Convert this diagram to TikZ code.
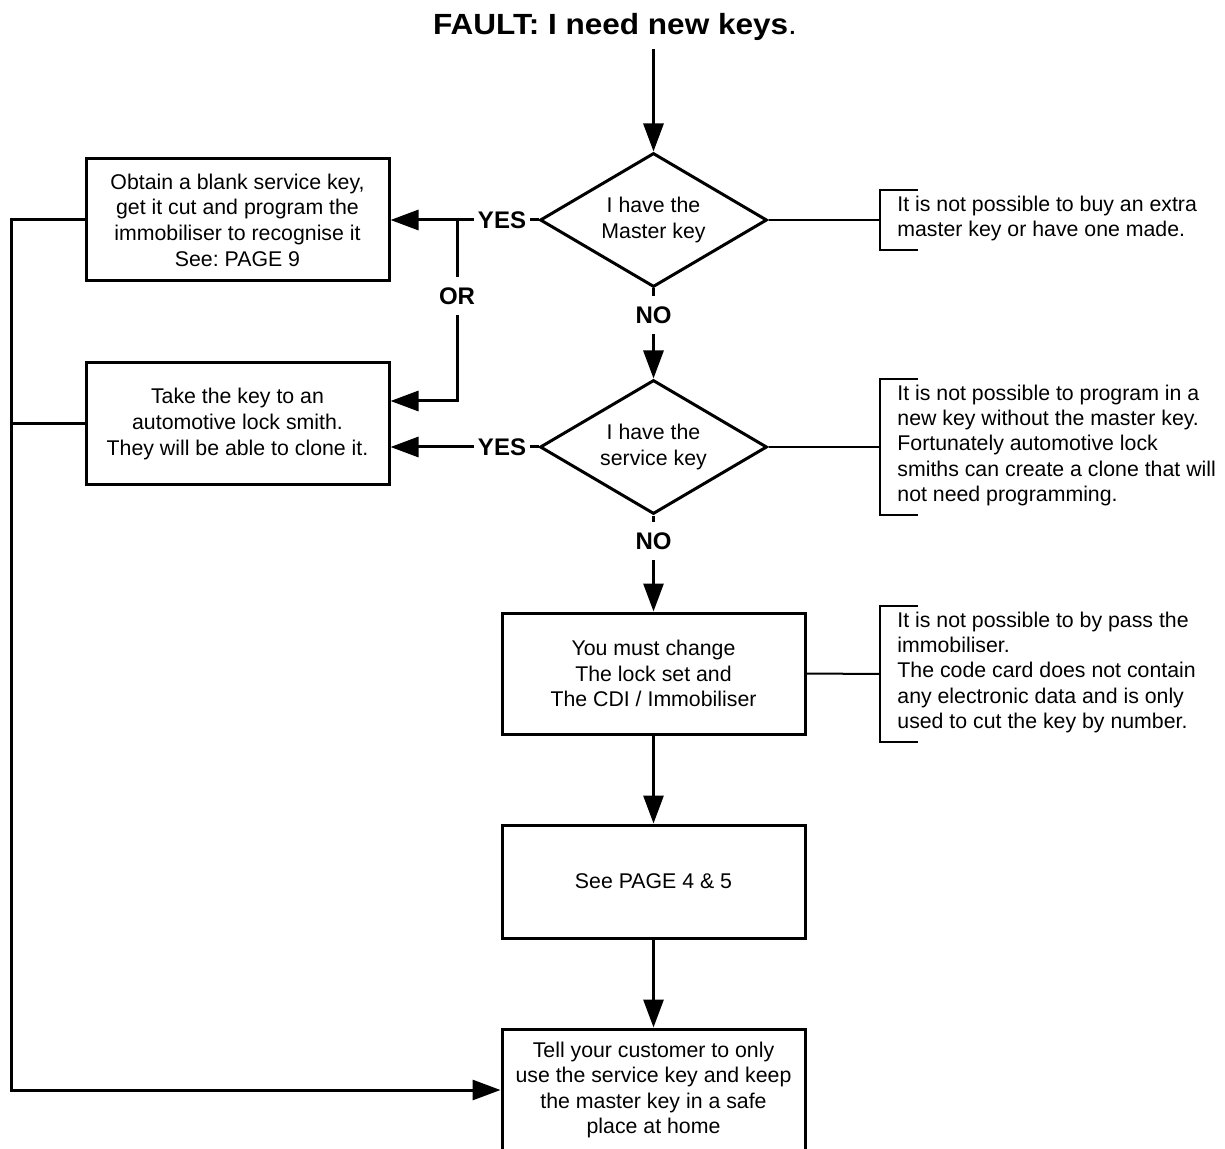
\documentclass[tikz,border=0pt]{standalone}
\usepackage{fontspec}
\setmainfont{Liberation Sans}
\usetikzlibrary{arrows.meta,shapes.geometric,calc}
\frenchspacing

\begin{document}
\begin{tikzpicture}[x=0.5pt,y=-0.5pt,
  flow/.style={line width=1.5pt},
  arrow/.style={flow,-{Triangle[length=14pt,width=10pt]}},
  box/.style={draw,line width=1.5pt,minimum width=151.5pt,minimum height=61pt,
    inner sep=0pt,align=center,font=\fontsize{10.65}{12.8}\selectfont},
  dec/.style={diamond,draw,line width=1.5pt,minimum width=113.5pt,minimum height=67pt,
    aspect=1.7,inner sep=0pt,align=center,font=\fontsize{10.65}{13.3}\selectfont},
  lbl/.style={font=\fontsize{12}{14}\selectfont\bfseries,inner xsep=2pt,inner ysep=5pt},
  note/.style={anchor=west,align=left,inner xsep=0pt,inner ysep=2.6pt,
    font=\fontsize{10.65}{12.65}\selectfont,
    execute at begin node=\strut,execute at end node=\strut},
  noteline/.style={line width=1pt}
]
\useasboundingbox (0,0) rectangle (1225,1149);

% heading
\node[anchor=base,font=\fontsize{14.6}{17}\selectfont,inner sep=0pt] (title) at (615,35)
  {\scalebox{1.08}[1]{\textbf{FAULT: I need new keys}.}};
\coordinate (start) at (653.5,49);

% decisions
\node[dec] (d1) at (653.5,220) {I have the\\Master key};
\node[dec] (d2) at (653.5,447) {I have the\\service key};

% process boxes
\node[box] (box1) at (237.5,220) {Obtain a blank service key,\\get it cut and program the\\immobiliser to recognise it\\See: PAGE 9};
\node[box] (box2) at (237.5,424) {Take the key to an\\automotive lock smith.\\They will be able to clone it.};
\node[box,minimum height=60.5pt] (box3) at (653.5,673.5) {You must change\\The lock set and\\The CDI / Immobiliser};
\node[box,minimum height=56.5pt] (box4) at (653.5,881.5) {See PAGE 4 \& 5};
\node[box] (box5) at (653.5,1090) {Tell your customer to only\\use the service key and keep\\the master key in a safe\\place at home};

% branch labels
\node[lbl] (yes1) at (502,220) {YES};
\node[lbl] (yes2) at (502,447) {YES};
\node[lbl] (no1) at (653.5,315) {NO};
\node[lbl] (no2) at (653.5,541) {NO};
\node[lbl] (or) at (457,296) {OR};
\coordinate (orj) at (457,220);
\coordinate (loopx) at (11,220);

% main flow
\draw[arrow] (start) -- (d1.north);
\draw[flow] (d1.south) -- (no1.north);
\draw[arrow] (no1.south) -- (d2.north);
\draw[flow] (d2.south) -- (no2.north);
\draw[arrow] (no2.south) -- (box3.north);
\draw[arrow] (box3.south) -- (box4.north);
\draw[arrow] (box4.south) -- (box5.north);

% yes branches
\draw[flow] (d1.west) -- (yes1.east);
\draw[arrow] (yes1.west) -- (box1.east);
\draw[flow] (d2.west) -- (yes2.east);
\draw[arrow] (yes2.west) -- ([yshift=-11.5pt]box2.east);
\draw[flow] (orj) -- (or.north);
\draw[arrow] (or.south) |- ([yshift=11.5pt]box2.east);

% return to the final box
\draw[arrow] (box1.west) -- (loopx) |- (box5.west);
\draw[flow] (box2.west) -- (box2.west -| loopx);

% side notes
\node[note] (n1) at (897,220) {It is not possible to buy an extra\\master key or have one made.};
\node[note] (n2) at (897,447) {It is not possible to program in a\\new key without the master key.\\Fortunately automotive lock\\smiths can create a clone that will\\not need programming.};
\node[note] (n3) at (897,674) {It is not possible to by pass the\\immobiliser.\\The code card does not contain\\any electronic data and is only\\used to cut the key by number.};

\foreach \n/\src in {n1/d1,n2/d2,n3/box3}{
  \draw[noteline] (\src.east) -- ([xshift=-8.5pt]\n.west);
  \draw[noteline] ([xshift=10.5pt]\n.north west) -| ([xshift=-8.5pt]\n.south west)
    -- ([xshift=10.5pt]\n.south west);
}
\end{tikzpicture}
\end{document}
